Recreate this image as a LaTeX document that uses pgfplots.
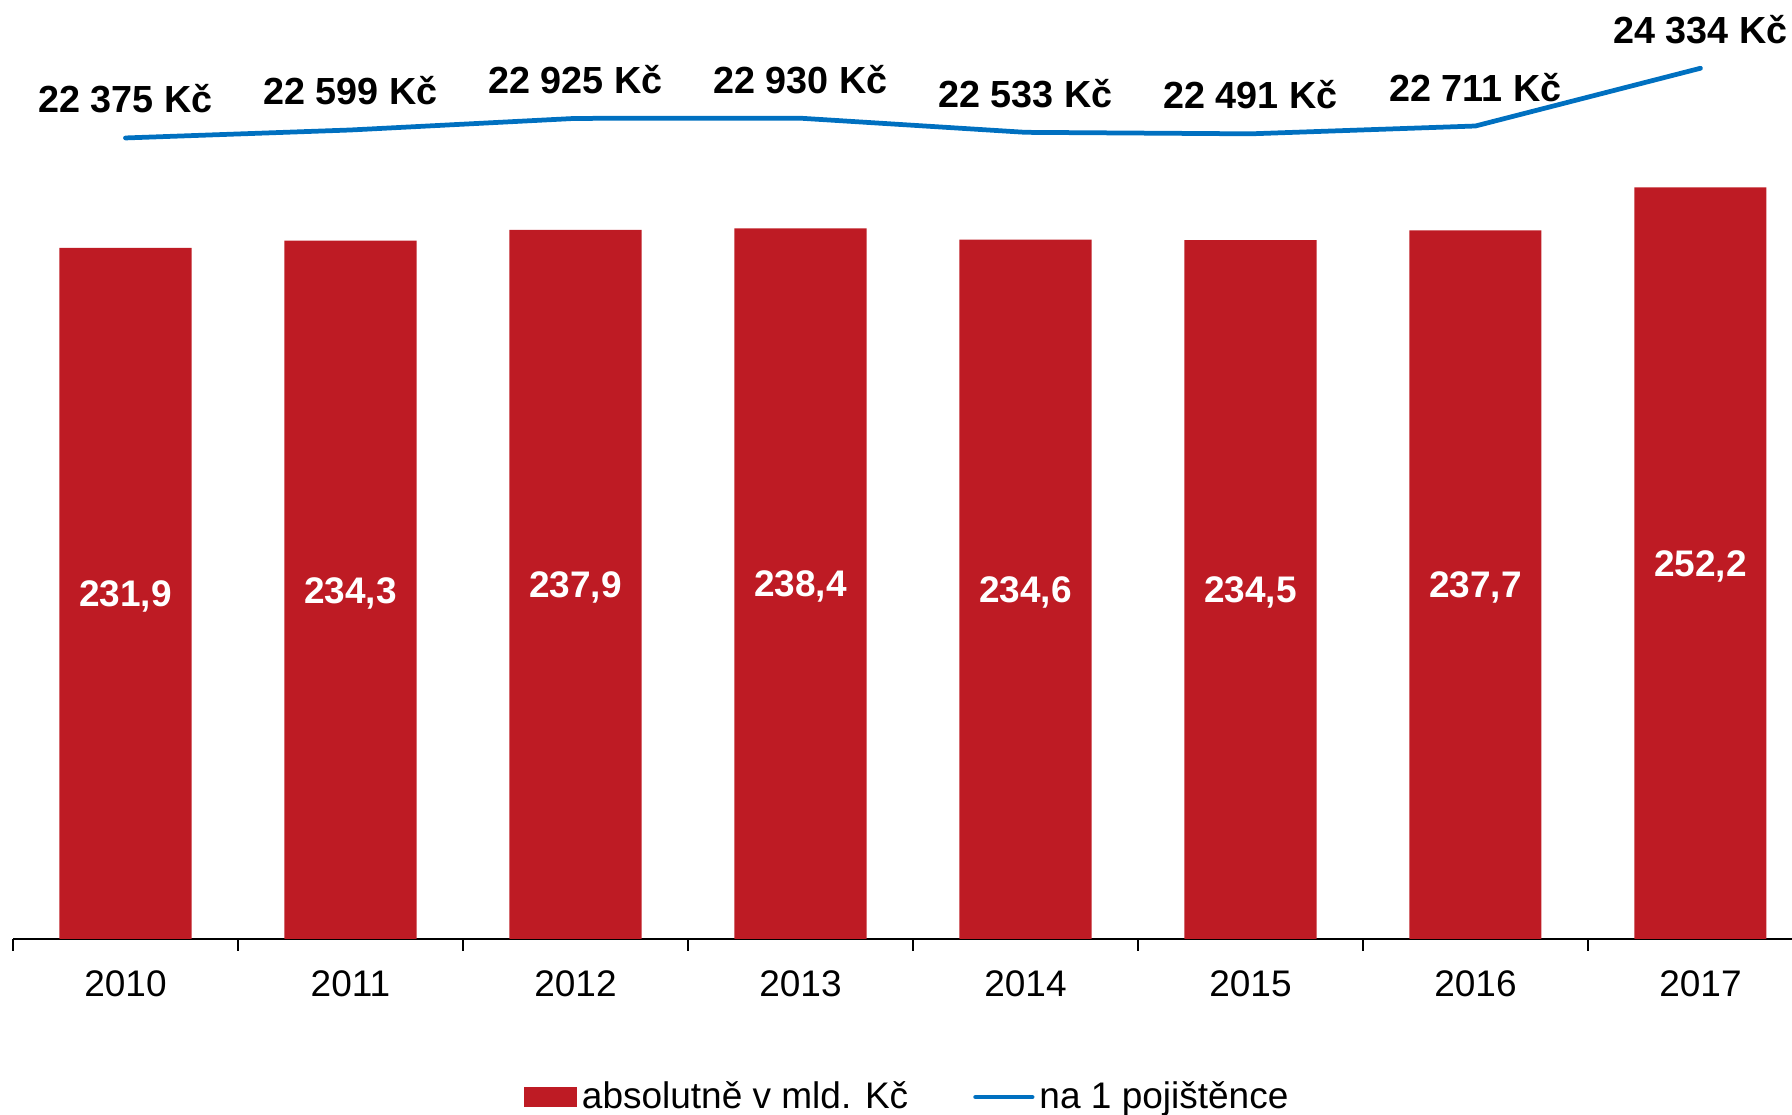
\documentclass[border=0pt]{standalone}
\usepackage{fontspec}
\setmainfont{Liberation Sans}
\usepackage{pgfplots}
\pgfplotsset{compat=1.18}
\definecolor{barred}{RGB}{190,27,36}
\definecolor{lineblue}{RGB}{0,112,192}
\newcommand{\lblfont}{\fontsize{14.8}{17.8}\selectfont}
\newcommand{\topfont}{\fontsize{15.1}{18.1}\selectfont\bfseries}

\begin{document}
\begin{tikzpicture}
\useasboundingbox (0,0) rectangle (716.8pt,446pt);
% bars: absolute amount in bn CZK
\begin{axis}[
    at={(5.2pt,70.4pt)}, anchor=south west,
    scale only axis, width=711.6pt, height=375.6pt,
    xmin=-0.5, xmax=7.407, ymin=0, ymax=315.03,
    axis x line*=bottom, axis y line=none,
    axis line style={black, line width=0.8pt},
    xtick={0,...,7},
    xticklabels={2010,2011,2012,2013,2014,2015,2016,2017},
    minor xtick={-0.5,0.5,...,6.5},
    major tick length=0pt, minor tick length=4.8pt, tick align=outside,
    minor x tick style={black, line width=0.8pt},
    xticklabel style={anchor=base, yshift=-23.2pt, font=\lblfont},
    clip=false,
]
\addplot[ybar, bar width=0.587, bar shift=0pt, fill=barred, draw=none] coordinates {
    (0,231.9) (1,234.3) (2,237.9) (3,238.4) (4,234.6) (5,234.5) (6,237.7) (7,252.2)
};
\begin{scope}[every node/.style={anchor=base, yshift=-5.3pt, text=white, font=\lblfont\bfseries}]
\node at (axis cs:0,115.95) {231,9};
\node at (axis cs:1,117.15) {234,3};
\node at (axis cs:2,118.95) {237,9};
\node at (axis cs:3,119.2) {238,4};
\node at (axis cs:4,117.3) {234,6};
\node at (axis cs:5,117.25) {234,5};
\node at (axis cs:6,118.85) {237,7};
\node at (axis cs:7,126.1) {252,2};
\end{scope}
\end{axis}
% line: per insured person in CZK
\begin{axis}[
    at={(5.2pt,70.4pt)}, anchor=south west,
    scale only axis, width=711.6pt, height=375.6pt,
    xmin=-0.5, xmax=7.407, ymin=-138, ymax=26253,
    hide axis, clip=false,
    legend columns=2,
    legend style={at={(0.2872,-0.1683)}, anchor=west, draw=none, fill=none,
        inner sep=0pt, font=\lblfont,
        nodes={inner sep=2pt},
        /tikz/every even column/.append style={column sep=24pt}},
]
\addlegendimage{legend image code/.code={\fill[barred] (0pt,-3.8pt) rectangle (20.6pt,3.8pt);}}
\addlegendentry{absolutně v mld. Kč}
\addplot[lineblue, line width=1.9pt, line cap=round, line join=round,
    nodes near coords, point meta=explicit symbolic,
    every node near coord/.append style={anchor=base, yshift=10pt, text=black, font=\topfont},
    legend image code/.code={\draw[lineblue, line width=1.9pt, line cap=round] (0pt,0pt) -- (22.6pt,0pt);}]
    coordinates {
    (0,22375) [22 375 Kč]
    (1,22599) [22 599 Kč]
    (2,22925) [22 925 Kč]
    (3,22930) [22 930 Kč]
    (4,22533) [22 533 Kč]
    (5,22491) [22 491 Kč]
    (6,22711) [22 711 Kč]
    (7,24334) [24 334 Kč]
};
\addlegendentry{na 1 pojištěnce}
\end{axis}
\end{tikzpicture}
\end{document}
